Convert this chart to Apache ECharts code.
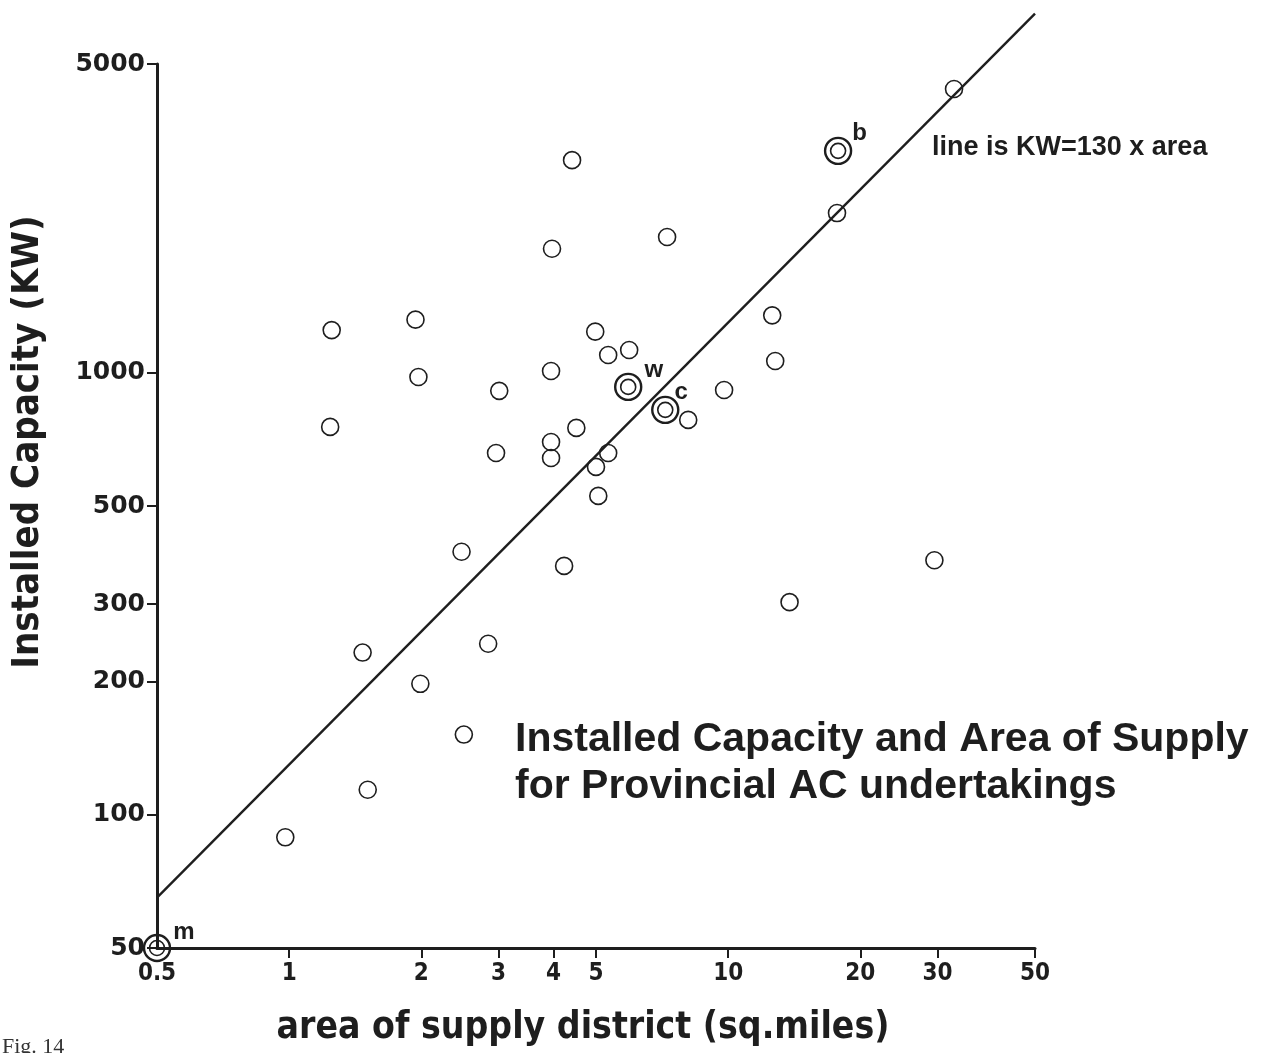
<!DOCTYPE html>
<html>
<head>
<meta charset="utf-8">
<script src="https://cdn.jsdelivr.net/npm/echarts@6/dist/echarts.min.js"></script>
<style>
html,body{margin:0;padding:0;background:#ffffff;}
#c{width:1267px;height:1053px;}
</style>
</head>
<body>
<div id="c"></div>
<script>
// ---- data (area in sq. miles, installed capacity in KW) ----
const areaVals = [32.7, 4.41, 17.7, 7.26, 3.97, 12.6, 1.94, 1.25, 4.98, 5.95, 5.33, 12.8, 3.95, 1.97, 9.79, 3.01, 8.11, 1.24, 4.51, 3.95, 2.96, 5.33, 3.95, 5.0, 5.06, 2.47, 29.5, 4.23, 13.8, 2.84, 1.47, 1.99, 2.5, 1.51, 0.98];
const kwVals   = [4390, 3030, 2300, 2030, 1910, 1350, 1320, 1250, 1240, 1127, 1098, 1064, 1010, 979, 915, 911, 783, 755, 751, 698, 659, 659, 642, 613, 527, 394, 377, 366, 303, 244, 233, 198, 152, 114, 89];
const specialNames = ['b', 'w', 'c', 'm'];
const specialArea  = [17.8, 5.92, 7.19, 0.5];
const specialKW    = [3180, 930, 825, 50];
const lineArea = [0.5, 50];
const lineKW   = [65, 6500];
const xTicks = [0.5, 1, 2, 3, 4, 5, 10, 20, 30, 50];
const yTicks = [50, 100, 200, 300, 500, 1000, 5000];

const labelOffsets = {b: [0, -17], w: [2, -17], c: [-5, -17], m: [2, -16]};
const ink = '#1e1e1e';

const chart = echarts.init(document.getElementById('c'), null, {renderer: 'canvas'});
const pts = areaVals.map((a, i) => [a, kwVals[i]]);
const sp = specialNames.map((n, i) => ({
  name: n,
  value: [specialArea[i], specialKW[i]],
  label: {offset: labelOffsets[n]}
}));

chart.setOption({
  backgroundColor: '#ffffff',
  animation: false,
  grid: {left: 157, right: 232, top: 64, bottom: 105, containLabel: false},
  xAxis: {
    type: 'log', logBase: 10, min: 0.5, max: 50,
    axisLine: {show: true, onZero: false, lineStyle: {color: ink, width: 3}},
    axisTick: {show: true, length: 10, inside: false, customValues: xTicks.slice(1), lineStyle: {color: ink, width: 2}},
    axisLabel: {
      customValues: xTicks, margin: 14, color: ink,
      fontFamily: '"DejaVu Sans Condensed","Liberation Sans",sans-serif',
      fontWeight: 'bold', fontSize: 24,
      formatter: v => String(v)
    },
    splitLine: {show: false}
  },
  yAxis: {
    type: 'log', logBase: 10, min: 50, max: 5000,
    axisLine: {show: true, onZero: false, lineStyle: {color: ink, width: 3}},
    axisTick: {show: true, length: 10, customValues: yTicks, lineStyle: {color: ink, width: 2}},
    axisLabel: {
      customValues: yTicks, margin: 12, color: ink,
      fontFamily: '"DejaVu Sans",sans-serif', fontWeight: 'bold', fontSize: 25,
      formatter: v => String(Math.round(v))
    },
    splitLine: {show: false}
  },
  series: [
    {
      type: 'line', data: lineArea.map((a, i) => [a, lineKW[i]]),
      showSymbol: false, clip: false, silent: true,
      lineStyle: {color: ink, width: 2.4}
    },
    {
      type: 'scatter', data: pts, clip: false, symbol: 'circle', symbolSize: 17,
      itemStyle: {color: 'rgba(255,255,255,0)', borderColor: ink, borderWidth: 1.6, opacity: 1}
    },
    {
      type: 'scatter', data: sp, clip: false, symbol: 'circle', symbolSize: 26,
      itemStyle: {color: 'rgba(255,255,255,0)', borderColor: ink, borderWidth: 2.4, opacity: 1},
      label: {
        show: true, formatter: '{b}', position: 'right', distance: 0,
        color: ink, fontFamily: '"Liberation Sans","DejaVu Sans",sans-serif',
        fontWeight: 'bold', fontSize: 24, opacity: 1
      }
    },
    {
      type: 'scatter', data: sp.map(d => ({name: d.name, value: d.value})), clip: false,
      symbol: 'circle', symbolSize: 15,
      itemStyle: {color: 'rgba(255,255,255,0)', borderColor: ink, borderWidth: 1.6, opacity: 1}
    }
  ],
  graphic: [
    {
      type: 'text', x: 28, y: 442, rotation: Math.PI / 2,
      style: {
        text: 'Installed Capacity (KW)', fill: ink,
        font: 'bold 38px "DejaVu Sans Condensed",sans-serif',
        align: 'center', verticalAlign: 'middle'
      }
    },
    {
      type: 'text', x: 583, y: 1028,
      style: {
        text: 'area of supply district (sq.miles)', fill: ink,
        font: 'bold 37px "DejaVu Sans Condensed",sans-serif',
        align: 'center', verticalAlign: 'middle'
      }
    },
    {
      type: 'text', x: 515, y: 740,
      style: {
        text: 'Installed Capacity and Area of Supply', fill: ink,
        font: 'bold 41px "Liberation Sans",sans-serif',
        align: 'left', verticalAlign: 'middle'
      }
    },
    {
      type: 'text', x: 515, y: 787,
      style: {
        text: 'for Provincial AC undertakings', fill: ink,
        font: 'bold 41px "Liberation Sans",sans-serif',
        align: 'left', verticalAlign: 'middle'
      }
    },
    {
      type: 'text', x: 932, y: 148,
      style: {
        text: 'line is KW=130 x area', fill: ink,
        font: 'bold 27px "Liberation Sans",sans-serif',
        align: 'left', verticalAlign: 'middle'
      }
    },
    {
      type: 'text', x: 2, y: 1047,
      style: {
        text: 'Fig. 14', fill: '#333',
        font: '22px "Liberation Serif","DejaVu Serif",serif',
        align: 'left', verticalAlign: 'middle'
      }
    }
  ]
});
</script>
</body>
</html>
